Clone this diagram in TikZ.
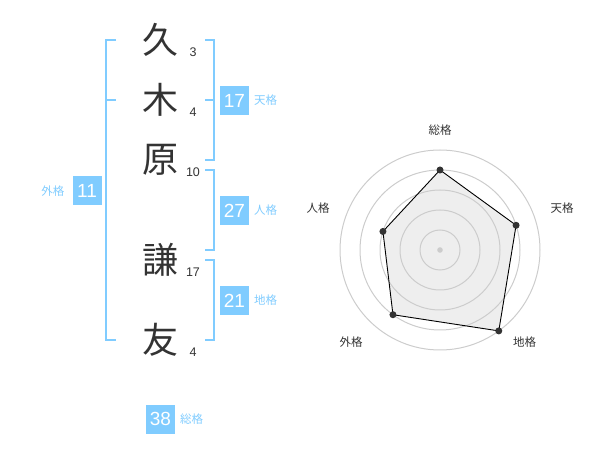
\documentclass[tikz,border=0pt]{standalone}
\usepackage{fontspec}
\setmainfont{Liberation Sans}
\newfontfamily\jpfont{Noto Sans CJK JP}
\usetikzlibrary{positioning}
\definecolor{kakublue}{RGB}{128,204,255}
\definecolor{inkgray}{RGB}{51,51,51}
\definecolor{ringgray}{RGB}{204,204,204}
\definecolor{fillgray}{RGB}{238,238,238}
\begin{document}
\begin{tikzpicture}[x=1pt,y=-1pt,inner sep=0pt,outer sep=0pt]
    \tikzstyle{kanji} = [font=\jpfont\fontsize{36}{36}\selectfont, text=inkgray]
    \tikzstyle{strokes} = [font=\fontsize{12.5}{12.5}\selectfont, text=inkgray]
    \tikzstyle{score} = [rectangle, fill=kakublue, minimum width=29pt, minimum height=29pt, text=white, font=\fontsize{19}{19}\selectfont]
    \tikzstyle{kaku} = [font=\jpfont\fontsize{11.5}{11.5}\selectfont, text=kakublue]
    \tikzstyle{axislabel} = [font=\jpfont\fontsize{11.5}{11.5}\selectfont, text=inkgray]
    \tikzstyle{bracket} = [draw=kakublue, line width=2pt]
    \tikzstyle{dot} = [circle, fill=inkgray, minimum size=7pt]
    \useasboundingbox (0,0) rectangle (600,470);
    % name
    \node (k1) [kanji] at (160,40)  {久};
    \node (k2) [kanji] at (160,100) {木};
    \node (k3) [kanji] at (160,160) {原};
    \node (k4) [kanji] at (160,260) {謙};
    \node (k5) [kanji] at (160,340) {友};
    \node (n1) [strokes] at (193,52)  {3};
    \node (n2) [strokes] at (193,112) {4};
    \node (n3) [strokes] at (193,172) {10};
    \node (n4) [strokes] at (193,272) {17};
    \node (n5) [strokes] at (193,352) {4};
    % brackets
    \draw[bracket] (116,40) -- (105.7,40) -- (105.7,340) -- (116,340);
    \draw[bracket] (105.7,100) -- (116,100);
    \draw[bracket] (205,40) -- (214.3,40) -- (214.3,160) -- (205,160);
    \draw[bracket] (205,100) -- (214.3,100);
    \draw[bracket] (205,170) -- (214.3,170) -- (214.3,250) -- (205,250);
    \draw[bracket] (205,260) -- (214.3,260) -- (214.3,340) -- (205,340);
    % scores
    \node (gai)  [score] at (87,191)     {11};
    \node (ten)  [score] at (234.5,100.5) {17};
    \node (jin)  [score] at (234.5,210.5) {27};
    \node (chi)  [score] at (234.5,300.5) {21};
    \node (sou)  [score] at (160.5,419)  {38};
    \node (gail) [kaku,left=8pt of gai]  {外格};
    \node (tenl) [kaku,right=5pt of ten] {天格};
    \node (jinl) [kaku,right=5pt of jin] {人格};
    \node (chil) [kaku,right=5pt of chi] {地格};
    \node (soul) [kaku,right=5pt of sou] {総格};
    % radar
    \begin{scope}[shift={(440,250)},yscale=-1]
        \coordinate (r1) at (90:80);
        \coordinate (r2) at (18:80);
        \coordinate (r3) at (-54:100);
        \coordinate (r4) at (-126:80);
        \coordinate (r5) at (162:60);
        \fill[fillgray] (r1) -- (r2) -- (r3) -- (r4) -- (r5) -- cycle;
        \foreach \r in {20,40,60,80,100}
            \draw[ringgray, line width=1pt] (0,0) circle [radius=\r];
        \fill[ringgray] (0,0) circle [radius=2.8];
        \draw[black, line width=0.9pt] (r1) -- (r2) -- (r3) -- (r4) -- (r5) -- cycle;
        \foreach \i in {1,...,5}
            \node (d\i) [dot] at (r\i) {};
    \end{scope}
    \node (a1) [axislabel] at (440,130.5) {総格};
    \node (a2) [axislabel] at (562,208.5) {天格};
    \node (a3) [axislabel] at (524.5,342) {地格};
    \node (a4) [axislabel] at (351,342)   {外格};
    \node (a5) [axislabel] at (318,208.5) {人格};
\end{tikzpicture}
\end{document}
